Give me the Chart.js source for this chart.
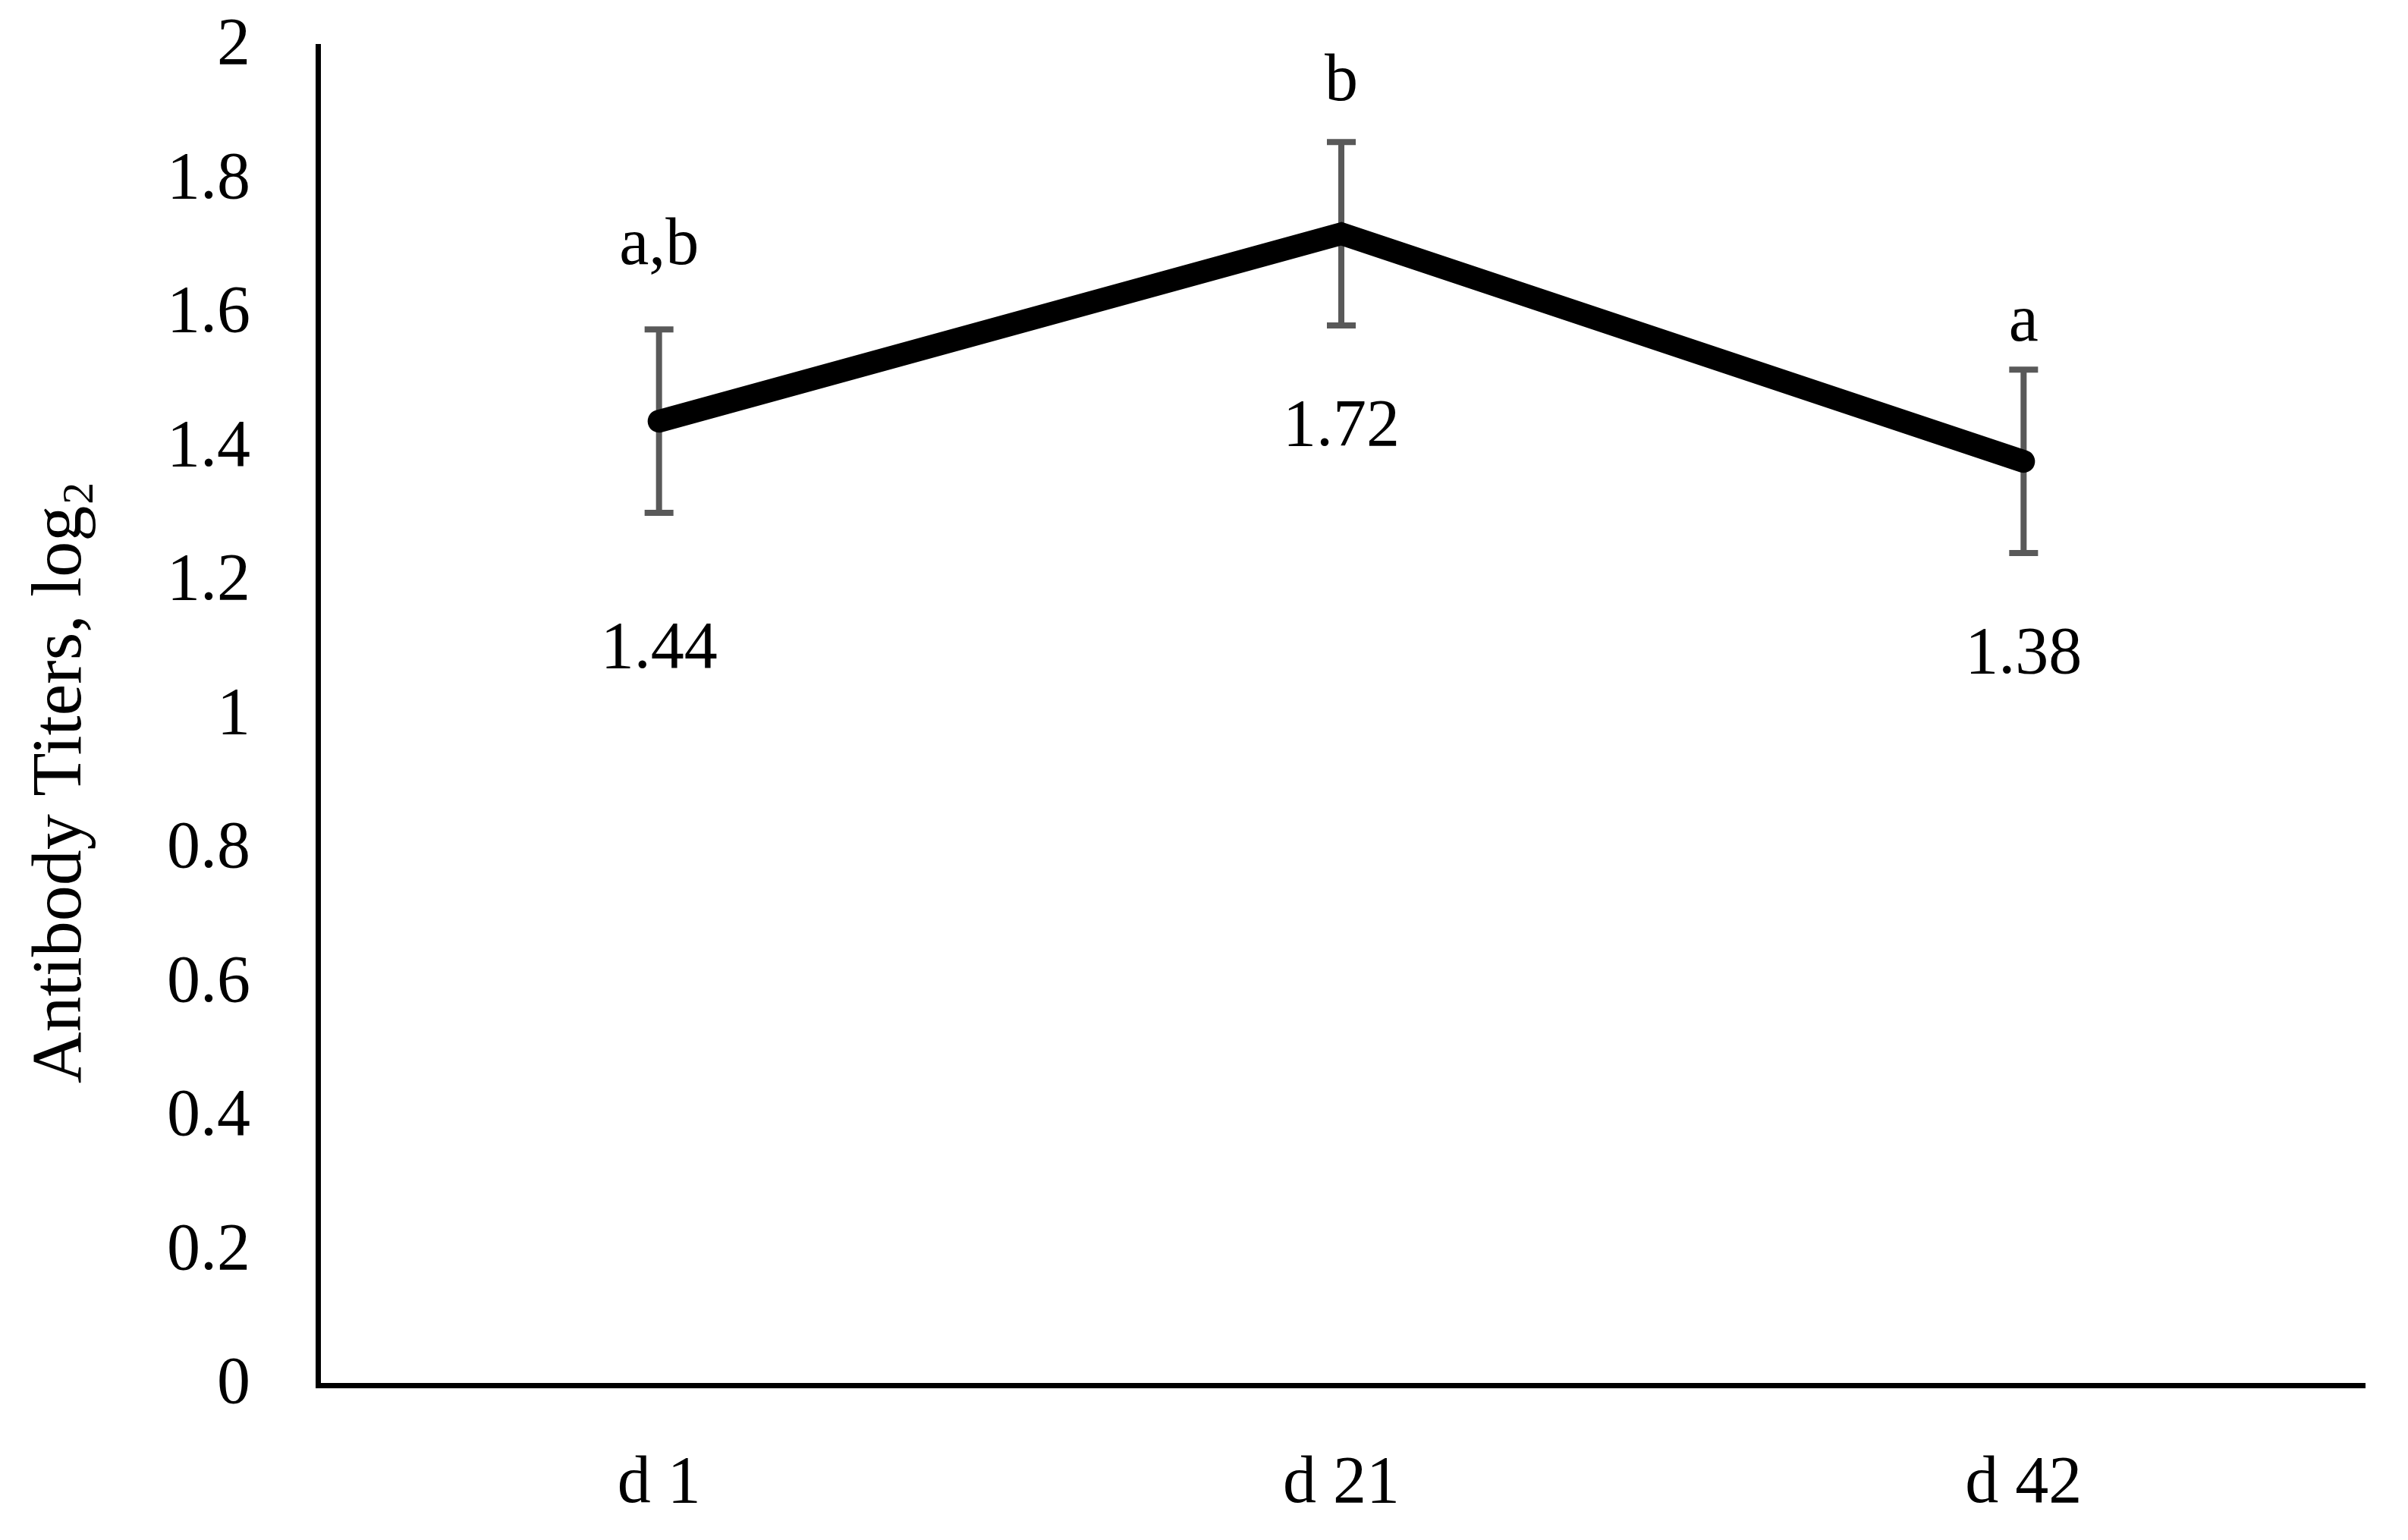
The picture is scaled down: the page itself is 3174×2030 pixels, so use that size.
<!DOCTYPE html>
<html>
<head>
<meta charset="utf-8">
<script src="https://cdn.jsdelivr.net/npm/chart.js@4.4.1/dist/chart.umd.min.js"></script>
<style>
  html, body { margin: 0; padding: 0; background: #fff; }
  #wrap { width: 3174px; height: 2030px; }
</style>
</head>
<body>
<div id="wrap"><canvas id="titerChart" width="3174" height="2030"></canvas></div>
<script>
const categories = ["d 1", "d 21", "d 42"];
const titers = [1.44, 1.72, 1.38];
const titerErr = [0.137, 0.137, 0.137];
const sigLetters = ["a,b", "b", "a"];
const valueLabels = ["1.44", "1.72", "1.38"];
const yTitle = "Antibody Titers, log";
const yTitleSub = "2";

const FONT = '"Liberation Serif", "Times New Roman", serif';
const FONT_SIZE = 88;

// pixel offsets of the annotation baselines from each point (hand placed in original)
const letterOffset = [-207, -176, -159];
const valueOffset = [325, 279, 279];

const errorBars = {
  id: "errorBars",
  beforeDatasetsDraw(chart) {
    const ctx = chart.ctx;
    const x = chart.scales.x, y = chart.scales.y;
    ctx.save();
    ctx.strokeStyle = "#595959";
    ctx.lineWidth = 8;
    titers.forEach(function(v, i) {
      const px = x.getPixelForValue(i);
      const top = y.getPixelForValue(v + titerErr[i]);
      const bot = y.getPixelForValue(v - titerErr[i]);
      ctx.beginPath();
      ctx.moveTo(px, top);
      ctx.lineTo(px, bot);
      ctx.moveTo(px - 19, top);
      ctx.lineTo(px + 19, top);
      ctx.moveTo(px - 19, bot);
      ctx.lineTo(px + 19, bot);
      ctx.stroke();
    });
    ctx.restore();
  }
};

const annotations = {
  id: "annotations",
  afterDatasetsDraw(chart) {
    const ctx = chart.ctx;
    const x = chart.scales.x, y = chart.scales.y;
    ctx.save();
    ctx.fillStyle = "#000";
    ctx.font = FONT_SIZE + "px " + FONT;
    ctx.textAlign = "center";
    ctx.textBaseline = "alphabetic";
    titers.forEach(function(v, i) {
      const px = x.getPixelForValue(i);
      const py = y.getPixelForValue(v);
      ctx.fillText(sigLetters[i], px, py + letterOffset[i]);
      ctx.fillText(valueLabels[i], px, py + valueOffset[i]);
    });

    // y axis title with subscript
    const tSize = 94;
    ctx.translate(81, 1033);
    ctx.rotate(-Math.PI / 2);
    ctx.font = tSize + "px " + FONT;
    const w1 = ctx.measureText(yTitle).width;
    ctx.font = Math.round(tSize * 0.62) + "px " + FONT;
    const w2 = ctx.measureText(yTitleSub).width;
    const start = -(w1 + w2) / 2;
    ctx.textAlign = "left";
    ctx.textBaseline = "middle";
    ctx.font = tSize + "px " + FONT;
    ctx.fillText(yTitle, start, 0);
    ctx.font = Math.round(tSize * 0.62) + "px " + FONT;
    ctx.fillText(yTitleSub, start + w1 + 2, 26);
    ctx.restore();
  }
};

const ctx = document.getElementById("titerChart").getContext("2d");
new Chart(ctx, {
  type: "line",
  data: {
    labels: categories,
    datasets: [{
      data: titers,
      borderColor: "#000",
      borderWidth: 30,
      borderCapStyle: "round",
      borderJoinStyle: "miter",
      pointRadius: 0,
      tension: 0,
      fill: false
    }]
  },
  options: {
    responsive: false,
    animation: false,
    layout: { padding: { top: 61, right: 57, bottom: 0, left: 0 } },
    plugins: {
      legend: { display: false },
      tooltip: { enabled: false }
    },
    scales: {
      x: {
        offset: true,
        grid: { display: false, drawTicks: false },
        border: { display: true, color: "#000", width: 7 },
        ticks: {
          color: "#000",
          padding: 78,
          maxRotation: 0,
          font: { family: FONT, size: FONT_SIZE }
        },
        afterFit(scale) {
          scale.height = 204;
          scale.paddingLeft = 0;
          scale.paddingRight = 0;
        }
      },
      y: {
        min: 0,
        max: 2,
        grid: { display: false, drawTicks: false },
        border: { display: true, color: "#000", width: 7 },
        ticks: {
          stepSize: 0.2,
          color: "#000",
          padding: 89,
          font: { family: FONT, size: FONT_SIZE },
          callback: function(v) { return String(Math.round(v * 10) / 10); }
        },
        afterFit(scale) {
          scale.width = 419;
          scale.paddingTop = 0;
          scale.paddingBottom = 0;
        }
      }
    }
  },
  plugins: [errorBars, annotations]
});
</script>
</body>
</html>
